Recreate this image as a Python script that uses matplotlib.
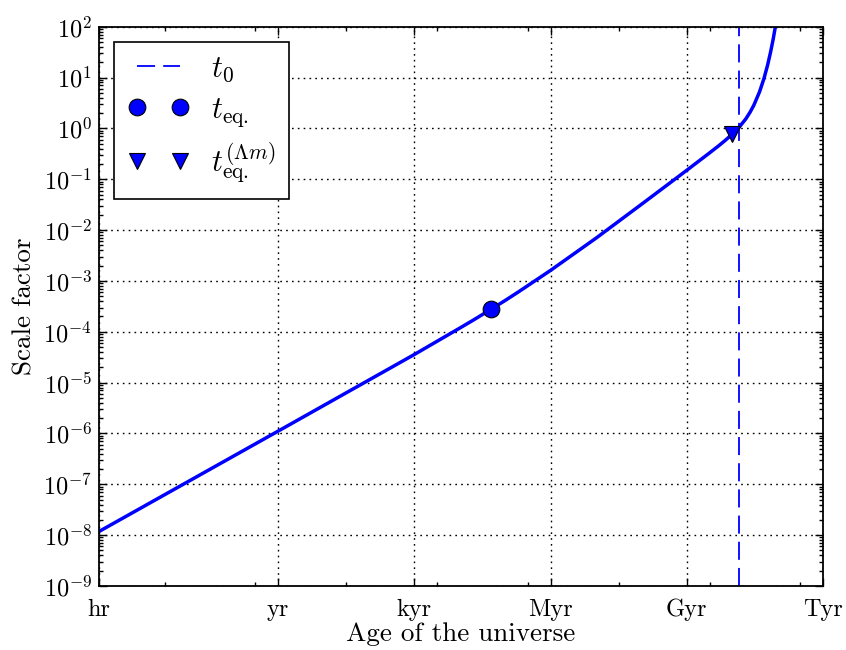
import numpy as np
import matplotlib
matplotlib.use("Agg")
import matplotlib.pyplot as plt
from matplotlib.ticker import LogLocator, NullFormatter


plt.rcParams["font.family"] = "serif"
plt.rcParams["font.serif"] = ["cmr10"]
plt.rcParams["mathtext.fontset"] = "cm"
plt.rcParams["axes.formatter.use_mathtext"] = True
plt.rcParams["axes.unicode_minus"] = False

SEC_PER_YR = 3.156e7

# scale factor vs. age (years)
age_yr = [1.1408e-4, 1.0, 1e3, 1e4, 2e4, 5e4, 1e5, 2e5, 1e6, 1e7, 1e8, 1e9,
          3e9, 5e9, 7e9, 1e10, 1.38e10, 2e10, 2.5e10, 3e10, 4e10, 5e10,
          6e10, 7e10, 8e10, 9e10, 1e11]
scale_factor = [1.18e-8, 1.11e-6, 3.57e-5, 1.18e-4, 1.70e-4, 2.8e-4, 4.12e-4,
                6.15e-4, 1.61e-3, 6.92e-3, 3.2e-2, 0.15, 0.317, 0.452, 0.579,
                0.766, 1.02, 1.54, 2.11, 2.86, 5.22, 9.5, 17.3, 31.5, 57.0,
                104.0, 190.0]

# special epochs
t_eq_yr, a_eq = 5.0e4, 2.8e-4
t_lm_yr, a_lm = 9.8e9, 0.76
t0_yr = 1.38e10

tick_labels = ["hr", "yr", "kyr", "Myr", "Gyr", "Tyr"]
tick_yr = [1.0 / 8766.0, 1.0, 1e3, 1e6, 1e9, 1e12]


def main() -> None:
    fig = plt.figure(figsize=(8.46, 6.5), dpi=100)
    ax = fig.add_axes([99 / 846, 1 - 586 / 650, (823 - 99) / 846, (586 - 26.7) / 650])

    t_sec = np.array(age_yr) * SEC_PER_YR
    ax.plot(t_sec, scale_factor, color="blue", lw=2.5, zorder=2)

    ax.axvline(t0_yr * SEC_PER_YR, color="blue", ls="--", dashes=(10, 4.5), lw=1.3,
               label=r"$t_0$")
    ax.plot([t_eq_yr * SEC_PER_YR], [a_eq], "o", color="blue", ms=12, mec="k",
            mew=0.8, zorder=3, label=r"$t_{\rm eq.}$")
    ax.plot([t_lm_yr * SEC_PER_YR], [a_lm], "v", color="blue", ms=12, mec="k",
            mew=0.8, zorder=3, label=r"$t_{\rm eq.}^{(\Lambda m)}$")

    ax.set_xscale("log")
    ax.set_yscale("log")
    ax.set_xlim(tick_yr[0] * SEC_PER_YR, tick_yr[-1] * SEC_PER_YR)
    ax.set_ylim(1e-9, 1e2)

    ax.set_xticks([t * SEC_PER_YR for t in tick_yr])
    ax.set_xticklabels(tick_labels)
    ax.set_xticks([10.0 ** k for k in range(5, 20, 2)], minor=True)
    ax.xaxis.set_minor_formatter(NullFormatter())
    ax.yaxis.set_major_locator(LogLocator(base=10, numticks=20))
    ax.yaxis.set_minor_locator(LogLocator(base=10, subs=np.arange(2, 10), numticks=20))
    ax.yaxis.set_minor_formatter(NullFormatter())

    ax.tick_params(which="both", direction="in", top=True, right=True, width=1)
    ax.tick_params(which="major", length=6)
    ax.tick_params(which="minor", length=3)
    ax.tick_params(axis="x", which="major", labelsize=17.5, pad=9)
    ax.tick_params(axis="y", which="major", labelsize=17.5, pad=5)
    for spine in ax.spines.values():
        spine.set_linewidth(1.3)

    ax.grid(True, which="major", color="k", ls=(0, (1.2, 3)), lw=1)

    ax.set_xlabel("Age of the universe", fontsize=19.5, labelpad=1)
    ax.set_ylabel("Scale factor", fontsize=19.5, labelpad=5)

    leg = ax.legend(loc="upper left", numpoints=2, fontsize=22, fancybox=False,
                    framealpha=1, edgecolor="k", borderaxespad=0.5,
                    handlelength=2.0, handletextpad=0.7, labelspacing=0.38,
                    borderpad=0.45)
    leg.get_frame().set_linewidth(1.2)

    fig.savefig("out.png", dpi=100)
    plt.close(fig)


if __name__ == "__main__":
    main()
